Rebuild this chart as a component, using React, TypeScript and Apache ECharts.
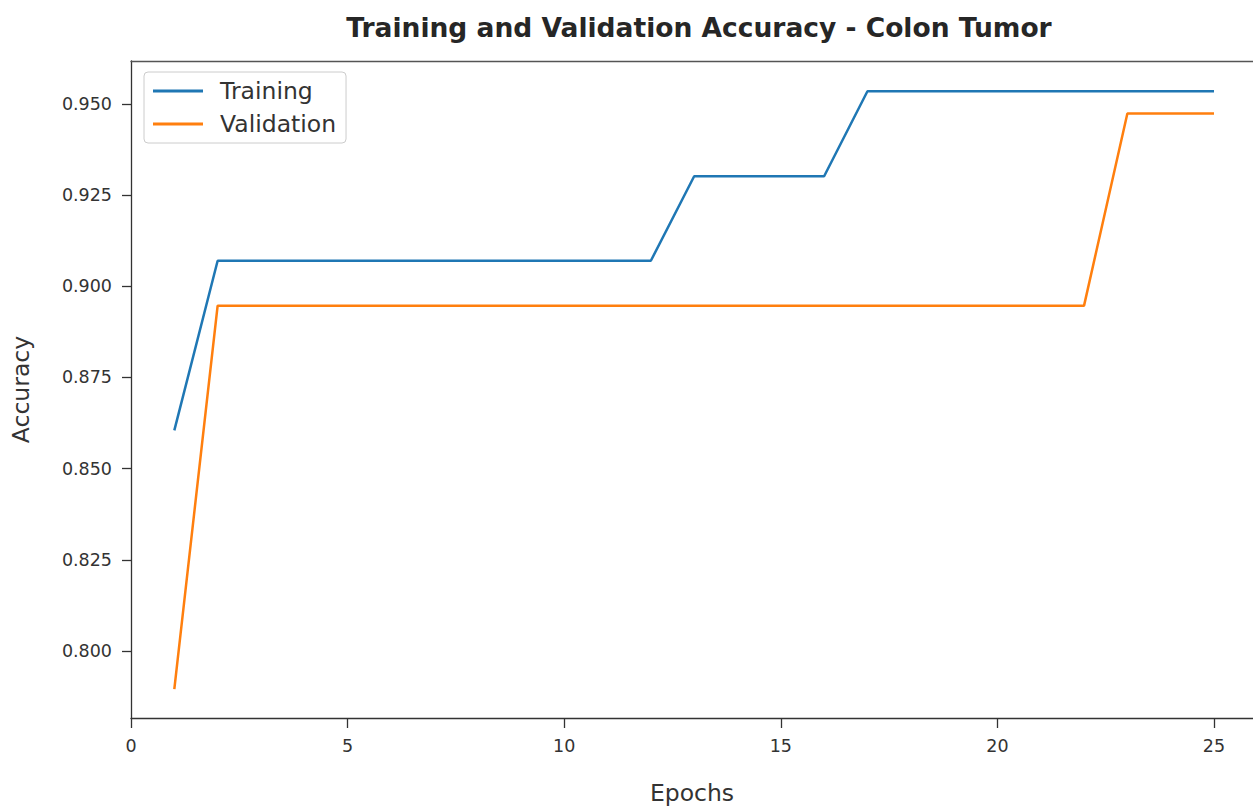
import React, { useEffect, useRef } from "react";
import * as echarts from "echarts";

const epochs = [1, 2, 3, 4, 5, 6, 7, 8, 9, 10, 11, 12, 13, 14, 15, 16, 17, 18, 19, 20, 21, 22, 23, 24, 25];
const trainingAcc = [
  0.8605, 0.907, 0.907, 0.907, 0.907, 0.907, 0.907, 0.907, 0.907, 0.907, 0.907, 0.907,
  0.9302, 0.9302, 0.9302, 0.9302, 0.9535, 0.9535, 0.9535, 0.9535, 0.9535, 0.9535, 0.9535, 0.9535, 0.9535,
];
const validationAcc = [
  0.7895, 0.8947, 0.8947, 0.8947, 0.8947, 0.8947, 0.8947, 0.8947, 0.8947, 0.8947, 0.8947, 0.8947,
  0.8947, 0.8947, 0.8947, 0.8947, 0.8947, 0.8947, 0.8947, 0.8947, 0.8947, 0.8947, 0.9474, 0.9474, 0.9474,
];
const xTicks = [0, 5, 10, 15, 20, 25];
const yTicks = [0.8, 0.825, 0.85, 0.875, 0.9, 0.925, 0.95];

const FONT = "DejaVu Sans";

export default function App() {
  const ref = useRef<HTMLDivElement>(null);
  useEffect(() => {
    if (!ref.current) return;
    const chart = echarts.init(ref.current, null, { renderer: "svg" });
    chart.setOption({
      animation: false,
      backgroundColor: "#ffffff",
      textStyle: { fontFamily: FONT },
      title: {
        text: "Training and Validation Accuracy - Colon Tumor",
        left: 694,
        top: 9,
        textAlign: "center",
        textStyle: { fontFamily: FONT, fontSize: 26.5, fontWeight: "bold", color: "#262626" },
      },
      legend: {
        orient: "vertical",
        left: 144,
        top: 72,
        padding: [7, 10, 7, 9],
        itemGap: 9,
        itemWidth: 50,
        itemHeight: 3,
        icon: "rect",
        backgroundColor: "#ffffff",
        borderColor: "#cccccc",
        borderWidth: 1,
        borderRadius: 4,
        textStyle: { fontFamily: FONT, fontSize: 23.5, color: "#333333", padding: [0, 0, 0, 12] },
        data: ["Training", "Validation"],
      },
      grid: { left: 131, right: 0, top: 61, bottom: 88, containLabel: false, outerBoundsMode: "none" },
      xAxis: [
        {
          type: "value",
          min: 0,
          max: 25.9,
          name: "Epochs",
          nameLocation: "middle",
          nameGap: 63,
          nameTextStyle: { fontFamily: FONT, fontSize: 23.5, color: "#333333" },
          axisLine: { show: true, lineStyle: { color: "#333333", width: 1.3 } },
          axisTick: { show: true, length: 10, lineStyle: { color: "#333333", width: 1.3 }, customValues: xTicks },
          axisLabel: { fontFamily: FONT, fontSize: 17.5, color: "#333333", margin: 19, customValues: xTicks },
          splitLine: { show: false },
        },
        {
          type: "value",
          position: "top",
          min: 0,
          max: 25.9,
          axisLine: { show: true, lineStyle: { color: "#555555", width: 1.3 } },
          axisTick: { show: false },
          axisLabel: { show: false },
          splitLine: { show: false },
        },
      ],
      yAxis: {
        type: "value",
        min: 0.7816,
        max: 0.9618,
        name: "Accuracy",
        nameLocation: "middle",
        nameGap: 98,
        nameTextStyle: { fontFamily: FONT, fontSize: 23.5, color: "#333333" },
        axisLine: { show: true, lineStyle: { color: "#333333", width: 1.3 } },
        axisTick: { show: true, length: 9, lineStyle: { color: "#333333", width: 1.3 }, customValues: yTicks },
        axisLabel: {
          fontFamily: FONT,
          fontSize: 17.5,
          color: "#333333",
          margin: 19,
          customValues: yTicks,
          formatter: (v: number) => v.toFixed(3),
        },
        splitLine: { show: false },
      },
      series: [
        {
          name: "Training",
          type: "line",
          xAxisIndex: 0,
          symbol: "none",
          data: epochs.map((e, i) => [e, trainingAcc[i]]),
          lineStyle: { color: "#1f77b4", width: 2.5 },
          itemStyle: { color: "#1f77b4" },
        },
        {
          name: "Validation",
          type: "line",
          xAxisIndex: 0,
          symbol: "none",
          data: epochs.map((e, i) => [e, validationAcc[i]]),
          lineStyle: { color: "#ff7f0e", width: 2.5 },
          itemStyle: { color: "#ff7f0e" },
        },
      ],
    });
    return () => chart.dispose();
  }, []);
  return (
    <div
      ref={ref}
      style={{ position: "fixed", left: 0, top: 0, width: 1253, height: 806, background: "#fff" }}
    />
  );
}
